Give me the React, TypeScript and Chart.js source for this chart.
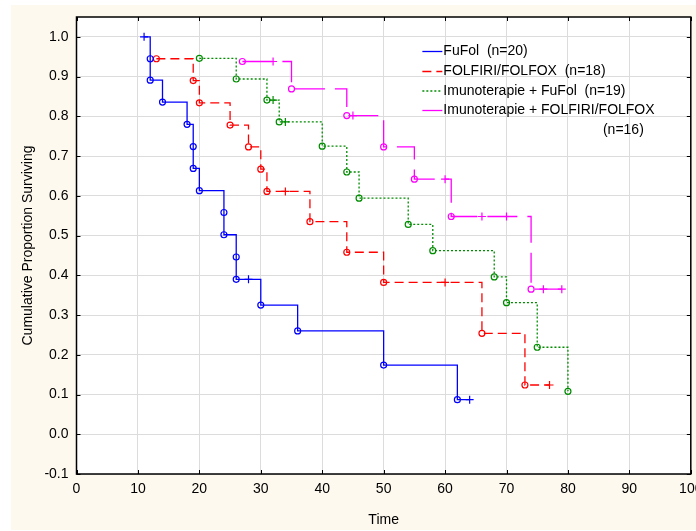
import React, { useEffect, useRef } from 'react';
import { Chart, registerables } from 'chart.js';

Chart.register(...registerables);

// ---- data ----
const xTicks = [0, 10, 20, 30, 40, 50, 60, 70, 80, 90, 100];
const yTicks = [-0.1, 0.0, 0.1, 0.2, 0.3, 0.4, 0.5, 0.6, 0.7, 0.8, 0.9, 1.0];

// 1 = censored (+), 0 = complete (o)
const fufolTime = [11, 12, 12, 14, 18, 19, 19, 20, 24, 24, 26, 26, 28, 30, 36, 50, 62, 64];
const fufolSurv = [1.0, 0.945, 0.891, 0.836, 0.78, 0.724, 0.669, 0.613, 0.558, 0.502, 0.446, 0.39, 0.39, 0.325, 0.26, 0.174, 0.087, 0.087];
const fufolCens = [1, 0, 0, 0, 0, 0, 0, 0, 0, 0, 0, 0, 1, 0, 0, 0, 0, 1];

const folfTime = [13, 19, 20, 25, 28, 30, 31, 34, 38, 44, 50, 60, 66, 73, 77];
const folfSurv = [0.945, 0.89, 0.834, 0.778, 0.723, 0.667, 0.611, 0.611, 0.535, 0.458, 0.382, 0.382, 0.254, 0.124, 0.124];
const folfCens = [0, 0, 0, 0, 0, 0, 0, 1, 0, 0, 0, 1, 0, 0, 1];

const imFufolTime = [20, 26, 31, 32, 33, 34, 40, 44, 46, 54, 58, 68, 70, 75, 80];
const imFufolSurv = [0.946, 0.894, 0.841, 0.841, 0.786, 0.786, 0.725, 0.66, 0.594, 0.528, 0.462, 0.396, 0.331, 0.219, 0.108];
const imFufolCens = [0, 0, 0, 1, 0, 1, 0, 0, 0, 0, 0, 0, 0, 0, 0];

const imFolfTime = [27, 32, 35, 44, 45, 50, 55, 60, 61, 66, 70, 74, 76, 79];
const imFolfSurv = [0.938, 0.938, 0.869, 0.802, 0.802, 0.723, 0.642, 0.642, 0.548, 0.548, 0.548, 0.365, 0.365, 0.365];
const imFolfCens = [0, 1, 0, 0, 1, 0, 0, 1, 0, 1, 1, 0, 1, 1];

const seriesNames = ['FuFol  (n=20)', 'FOLFIRI/FOLFOX  (n=18)', 'Imunoterapie + FuFol  (n=19)', 'Imunoterapie + FOLFIRI/FOLFOX'];
const lastLegendLine = '(n=16)';
const seriesColors = ['#0000ff', '#ff0000', '#008c00', '#ff00ff'];
const seriesDash: number[][] = [[], [9, 5], [2, 2], [30, 10]];

const FONT = '"Liberation Sans", Arial, Helvetica, sans-serif';

function makeDataset(i: number, times: number[], surv: number[], cens: number[]) {
  return {
    label: seriesNames[i],
    data: times.map((t, k) => ({ x: t, y: surv[k] })),
    borderColor: seriesColors[i],
    borderWidth: 1.3,
    borderDash: seriesDash[i],
    stepped: 'before' as const,
    fill: false,
    pointStyle: cens.map((c) => (c ? 'cross' : 'circle')),
    pointRadius: cens.map((c) => (c ? 4 : 3)),
    pointBorderColor: seriesColors[i],
    pointBackgroundColor: 'rgba(0,0,0,0)',
    pointBorderWidth: 1.2,
  };
}

const bgPlugin = {
  id: 'bgPlugin',
  beforeDraw(chart: any) {
    const { ctx, chartArea, width, height } = chart;
    ctx.save();
    ctx.fillStyle = '#ffffff';
    ctx.fillRect(0, 0, width, height);
    ctx.fillStyle = '#fdf9ee';
    ctx.fillRect(11, 5, width - 11, height - 6);
    ctx.fillStyle = '#ffffff';
    ctx.fillRect(chartArea.left, chartArea.top, chartArea.right - chartArea.left, chartArea.bottom - chartArea.top);
    ctx.restore();
  },
};

const framePlugin = {
  id: 'framePlugin',
  afterDraw(chart: any) {
    const { ctx, chartArea } = chart;
    const { left, right, top, bottom } = chartArea;
    const xs = chart.scales.x;
    const ys = chart.scales.y;
    ctx.save();
    ctx.strokeStyle = '#000';
    ctx.lineWidth = 1.5;
    ctx.strokeRect(left, top, right - left, bottom - top);
    ctx.lineWidth = 1;
    const tl = 4;
    ctx.beginPath();
    xTicks.forEach((v) => {
      const px = Math.round(xs.getPixelForValue(v)) + 0.5;
      ctx.moveTo(px, bottom);
      ctx.lineTo(px, bottom - tl);
      ctx.moveTo(px, top);
      ctx.lineTo(px, top + tl);
    });
    yTicks.forEach((v) => {
      const py = Math.round(ys.getPixelForValue(v)) + 0.5;
      ctx.moveTo(left, py);
      ctx.lineTo(left + tl, py);
      ctx.moveTo(right, py);
      ctx.lineTo(right - tl, py);
    });
    ctx.stroke();

    // legend
    const lx = xs.getPixelForValue(56.3);
    const rowY = [51.5, 71.5, 91, 110.5];
    ctx.font = `14px ${FONT}`;
    ctx.textBaseline = 'middle';
    ctx.textAlign = 'left';
    seriesNames.forEach((name, i) => {
      const y = rowY[i];
      ctx.strokeStyle = seriesColors[i];
      ctx.lineWidth = 1.3;
      ctx.setLineDash(seriesDash[i]);
      ctx.beginPath();
      ctx.moveTo(lx, y);
      ctx.lineTo(lx + 20, y);
      ctx.stroke();
      ctx.setLineDash([]);
      ctx.fillStyle = '#000';
      ctx.fillText(name, lx + 21, y);
    });
    ctx.fillText(lastLegendLine, xs.getPixelForValue(85.7), 130);
    ctx.restore();
  },
};

export default function App() {
  const ref = useRef<HTMLCanvasElement | null>(null);

  useEffect(() => {
    document.body.style.margin = '0';
    const canvas = ref.current;
    if (!canvas) return;
    Chart.defaults.font.family = FONT;
    Chart.defaults.font.size = 14;
    Chart.defaults.color = '#000';

    const chart = new Chart(canvas, {
      type: 'line',
      data: {
        datasets: [
          makeDataset(0, fufolTime, fufolSurv, fufolCens),
          makeDataset(1, folfTime, folfSurv, folfCens),
          makeDataset(2, imFufolTime, imFufolSurv, imFufolCens),
          makeDataset(3, imFolfTime, imFolfSurv, imFolfCens),
        ] as any,
      },
      options: {
        responsive: false,
        animation: false,
        events: [],
        layout: { padding: { left: 0, top: 17, right: 5, bottom: 0 } },
        plugins: {
          legend: { display: false },
          tooltip: { enabled: false },
        },
        scales: {
          x: {
            type: 'linear',
            min: 0,
            max: 100,
            afterBuildTicks: (scale: any) => {
              scale.ticks = xTicks.map((v) => ({ value: v }));
            },
            afterFit: (scale: any) => {
              scale.height = 57;
              scale.paddingLeft = 0;
              scale.paddingRight = 0;
            },
            grid: { color: '#dcdcdc', lineWidth: 1, drawTicks: false },
            border: { display: false },
            ticks: {
              padding: 7,
              maxRotation: 0,
              autoSkip: false,
              font: { size: 14, family: FONT },
              color: '#000',
              callback: (v: any) => String(v),
            },
            title: {
              display: true,
              text: 'Time',
              font: { size: 14, family: FONT },
              color: '#000',
              padding: { top: 0, bottom: 2.6 },
            },
          },
          y: {
            type: 'linear',
            min: -0.1,
            max: 1.05,
            afterBuildTicks: (scale: any) => {
              scale.ticks = yTicks.map((v) => ({ value: v }));
            },
            afterFit: (scale: any) => {
              scale.width = 76.5;
              scale.paddingTop = 0;
              scale.paddingBottom = 0;
            },
            grid: { color: '#dcdcdc', lineWidth: 1, drawTicks: false },
            border: { display: false },
            ticks: {
              padding: 8,
              autoSkip: false,
              font: { size: 14, family: FONT },
              color: '#000',
              callback: (v: any) => Number(v).toFixed(1),
            },
            title: {
              display: true,
              text: 'Cumulative Proportion Surviving',
              font: { size: 14, family: FONT },
              color: '#000',
              padding: { top: 19.6, bottom: 0 },
            },
          },
        },
      },
      plugins: [bgPlugin, framePlugin],
    });
    return () => chart.destroy();
  }, []);

  return (
    <div style={{ width: 696, height: 531 }}>
      <canvas ref={ref} width={696} height={531} style={{ display: 'block' }} />
    </div>
  );
}
